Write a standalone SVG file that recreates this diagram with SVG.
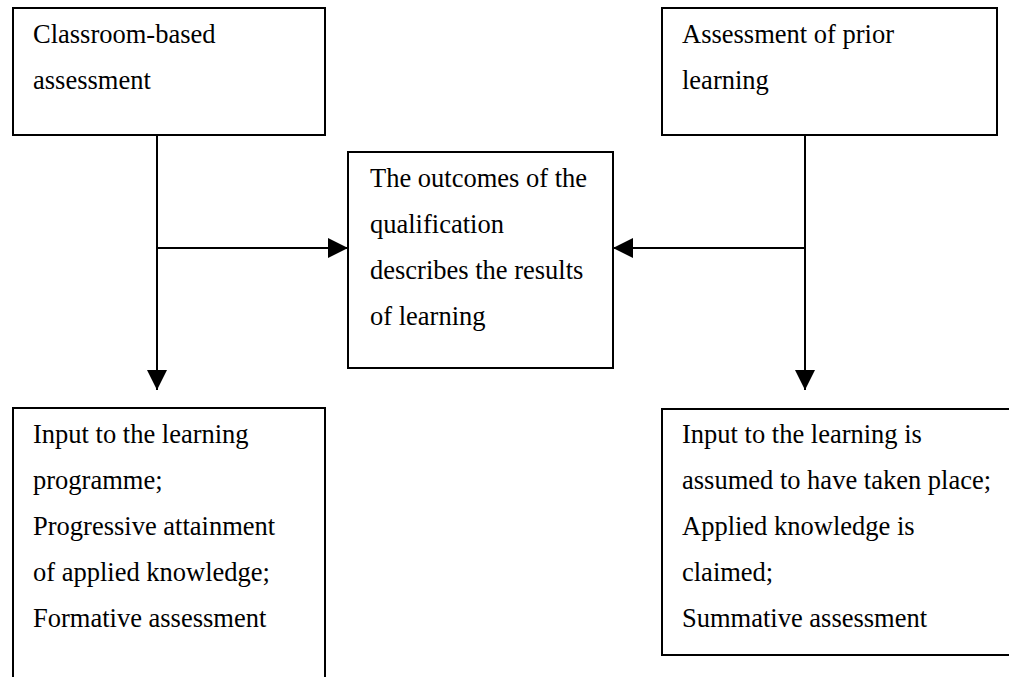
<svg xmlns="http://www.w3.org/2000/svg" width="1009" height="677" viewBox="0 0 1009 677">
<style>
.box{fill:#fff;stroke:#000;stroke-width:2}
.t{font-family:"Liberation Serif","Times New Roman",serif;font-size:26.5px;fill:#000}
.ln{stroke:#000;stroke-width:2;fill:none}
</style>
<defs>
<marker id="ah" viewBox="0 0 20 20" refX="20" refY="10" markerWidth="20" markerHeight="20" markerUnits="userSpaceOnUse" orient="auto">
<path d="M0,0 L20,10 L0,20 Z" fill="#000"/>
</marker>
</defs>
<rect width="1009" height="677" fill="#fff"/>
<g id="connectors">
<line class="ln" x1="157" y1="135" x2="157" y2="390" marker-end="url(#ah)"/>
<line class="ln" x1="157" y1="248" x2="348" y2="248" marker-end="url(#ah)"/>
<line class="ln" x1="805" y1="135" x2="805" y2="390" marker-end="url(#ah)"/>
<line class="ln" x1="805" y1="248" x2="613" y2="248" marker-end="url(#ah)"/>
</g>
<g id="node-classroom">
<rect class="box" x="13" y="8" width="312" height="127"/>
<text class="t" x="33" y="43">Classroom-based</text>
<text class="t" x="33" y="89">assessment</text>
</g>
<g id="node-prior">
<rect class="box" x="662" y="8" width="335" height="127"/>
<text class="t" x="682" y="43">Assessment of prior</text>
<text class="t" x="682" y="89">learning</text>
</g>
<g id="node-outcomes">
<rect class="box" x="348" y="152" width="265" height="216"/>
<text class="t" x="370" y="187">The outcomes of the</text>
<text class="t" x="370" y="233">qualification</text>
<text class="t" x="370" y="279">describes the results</text>
<text class="t" x="370" y="325">of learning</text>
</g>
<g id="node-input-left">
<rect class="box" x="13" y="408" width="312" height="290"/>
<text class="t" x="33" y="443">Input to the learning</text>
<text class="t" x="33" y="489">programme;</text>
<text class="t" x="33" y="535">Progressive attainment</text>
<text class="t" x="33" y="581">of applied knowledge;</text>
<text class="t" x="33" y="627">Formative assessment</text>
</g>
<g id="node-input-right">
<rect class="box" x="662" y="409" width="360" height="246"/>
<text class="t" x="682" y="443">Input to the learning is</text>
<text class="t" x="682" y="489">assumed to have taken place;</text>
<text class="t" x="682" y="535">Applied knowledge is</text>
<text class="t" x="682" y="581">claimed;</text>
<text class="t" x="682" y="627">Summative assessment</text>
</g>
</svg>
